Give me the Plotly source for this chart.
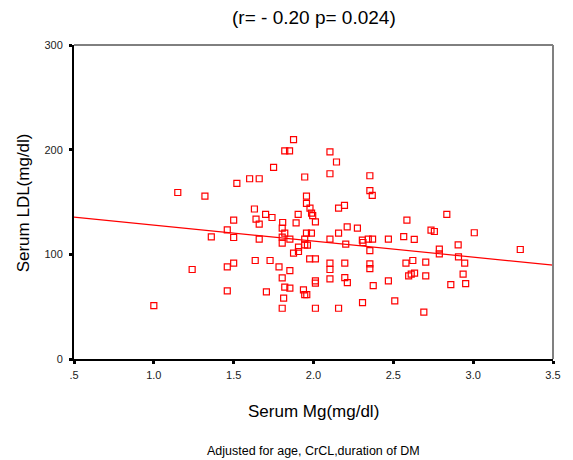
import plotly.graph_objects as go

# Serum magnesium (mg/dl) and serum LDL (mg/dl) per patient
serum_mg = [
    1.15, 1.32, 1.52, 1.50, 1.46, 1.36, 1.50, 1.24, 1.46, 1.50, 1.46, 1.00,
    1.875, 1.82, 1.85, 1.75, 1.60, 1.66, 1.945, 1.956, 1.956, 1.978, 1.988, 1.995,
    2.012, 1.904, 1.891, 1.63, 1.70, 1.74, 1.64, 1.66, 1.807, 1.804, 1.82, 1.956,
    1.987, 1.66, 1.804, 1.804, 1.852, 1.945, 1.945, 1.962, 1.906, 1.906, 1.875,
    1.976, 2.012, 1.635, 1.728, 1.784, 1.852, 1.804, 1.82, 1.852, 1.937, 1.945,
    1.958, 2.012, 2.012, 1.705, 1.813, 1.804, 2.012,
    2.103, 2.144, 2.103, 2.353, 2.353, 2.368, 2.157, 2.194, 2.157, 2.211, 2.275,
    2.103, 2.202, 2.306, 2.31, 2.343, 2.37, 2.469, 2.353, 2.103, 2.103, 2.196,
    2.353, 2.353, 2.103, 2.196, 2.212, 2.374, 2.469, 2.307, 2.509, 2.157,
    2.835, 2.585, 2.736, 2.757, 3.007, 2.565, 2.631, 2.906, 2.788, 2.788, 2.908,
    3.295, 2.947, 2.579, 2.622, 2.703, 2.596, 2.612, 2.633, 2.703, 2.937, 2.86,
    2.953, 2.691,
]
serum_ldl = [
    159.1, 155.7, 167.8, 132.7, 123.4, 116.7, 116.1, 85.5, 88.0, 91.6, 65.1, 51.0,
    209.6, 198.8, 198.8, 183.1, 172.2, 172.2, 173.9, 155.7, 148.6, 144.2, 139.3, 137.0,
    131.1, 138.1, 130.1, 143.3, 138.1, 135.2, 133.7, 128.9, 130.4, 125.1, 120.3, 120.3,
    120.3, 114.5, 116.5, 110.7, 114.5, 114.5, 109.1, 108.8, 106.9, 102.7, 101.1,
    95.7, 95.7, 94.1, 94.1, 88.0, 84.5, 77.5, 68.6, 67.7, 66.0, 61.5,
    61.5, 74.6, 72.4, 64.1, 58.1, 48.5, 48.5,
    197.8, 188.2, 177.0, 175.1, 160.8, 156.3, 144.2, 146.7, 120.3, 126.3, 125.1,
    114.5, 109.8, 113.6, 111.3, 114.5, 114.5, 114.5, 103.6, 91.6, 85.5, 91.6,
    90.9, 86.4, 76.6, 77.8, 73.0, 70.1, 74.6, 53.9, 55.5, 48.5,
    138.1, 132.7, 123.2, 121.8, 120.6, 117.0, 114.2, 109.1, 105.0, 100.5, 97.6,
    104.6, 91.6, 91.6, 94.1, 92.5, 79.4, 81.1, 82.0, 79.4, 81.1, 71.1,
    72.1, 44.7,
]

# Adjusted regression line (value at each end of the x range)
fit_x = [0.5, 3.5]
fit_y = [135.6, 89.7]

x_tick_vals = [0.5, 1.0, 1.5, 2.0, 2.5, 3.0, 3.5]
x_tick_text = [".5", "1.0", "1.5", "2.0", "2.5", "3.0", "3.5"]
y_tick_vals = [0, 100, 200, 300]

FONT = "Liberation Sans, Arial, sans-serif"

fig = go.Figure()
fig.add_trace(go.Scatter(
    x=fit_x, y=fit_y, mode="lines",
    line=dict(color="#ff0000", width=1.2),
    hoverinfo="skip", showlegend=False,
))
fig.add_trace(go.Scatter(
    x=serum_mg, y=serum_ldl, mode="markers",
    marker=dict(symbol="square-open", size=6, color="#ff0000",
                line=dict(color="#ff0000", width=1.2)),
    showlegend=False,
))

axis_common = dict(
    showgrid=False, zeroline=False, showline=True,
    linecolor="black", linewidth=2,
    ticks="outside", ticklen=3, tickwidth=3, tickcolor="black",
    tickfont=dict(family=FONT, size=11, color="#222222"),
)

fig.update_layout(
    width=573, height=460,
    margin=dict(l=74, r=16, t=45, b=101),
    paper_bgcolor="white", plot_bgcolor="white",
    font=dict(family=FONT, color="black"),
    xaxis=dict(range=[0.5, 3.5], tickvals=x_tick_vals, ticktext=x_tick_text,
               ticklabelstandoff=2, **axis_common),
    yaxis=dict(range=[0, 300], tickvals=y_tick_vals,
               ticklabelstandoff=4, **axis_common),
    shapes=[
        dict(type="line", xref="paper", yref="paper", x0=0, x1=1, y0=1, y1=1,
             line=dict(color="black", width=1)),
        dict(type="line", xref="paper", yref="paper", x0=1, x1=1, y0=0, y1=1,
             line=dict(color="#808080", width=2)),
    ],
    annotations=[
        dict(text="(r= - 0.20 p= 0.024)", xref="paper", yref="paper",
             x=0.5, y=1.086, xanchor="center", yanchor="middle",
             showarrow=False, font=dict(family=FONT, size=19, color="black")),
        dict(text="Serum Mg(mg/dl)", xref="paper", yref="paper",
             x=0.5, y=-0.166, xanchor="center", yanchor="middle",
             showarrow=False, font=dict(family=FONT, size=17, color="black")),
        dict(text="Adjusted for age, CrCL,duration of DM", xref="paper", yref="paper",
             x=0.5, y=-0.293, xanchor="center", yanchor="middle",
             showarrow=False, font=dict(family=FONT, size=12.5, color="black")),
        dict(text="Serum LDL(mg/dl)", xref="paper", yref="paper",
             x=-0.1035, y=0.497, xanchor="center", yanchor="middle", textangle=-90,
             showarrow=False, font=dict(family=FONT, size=17, color="black")),
    ],
)

fig.write_html("out.html")
